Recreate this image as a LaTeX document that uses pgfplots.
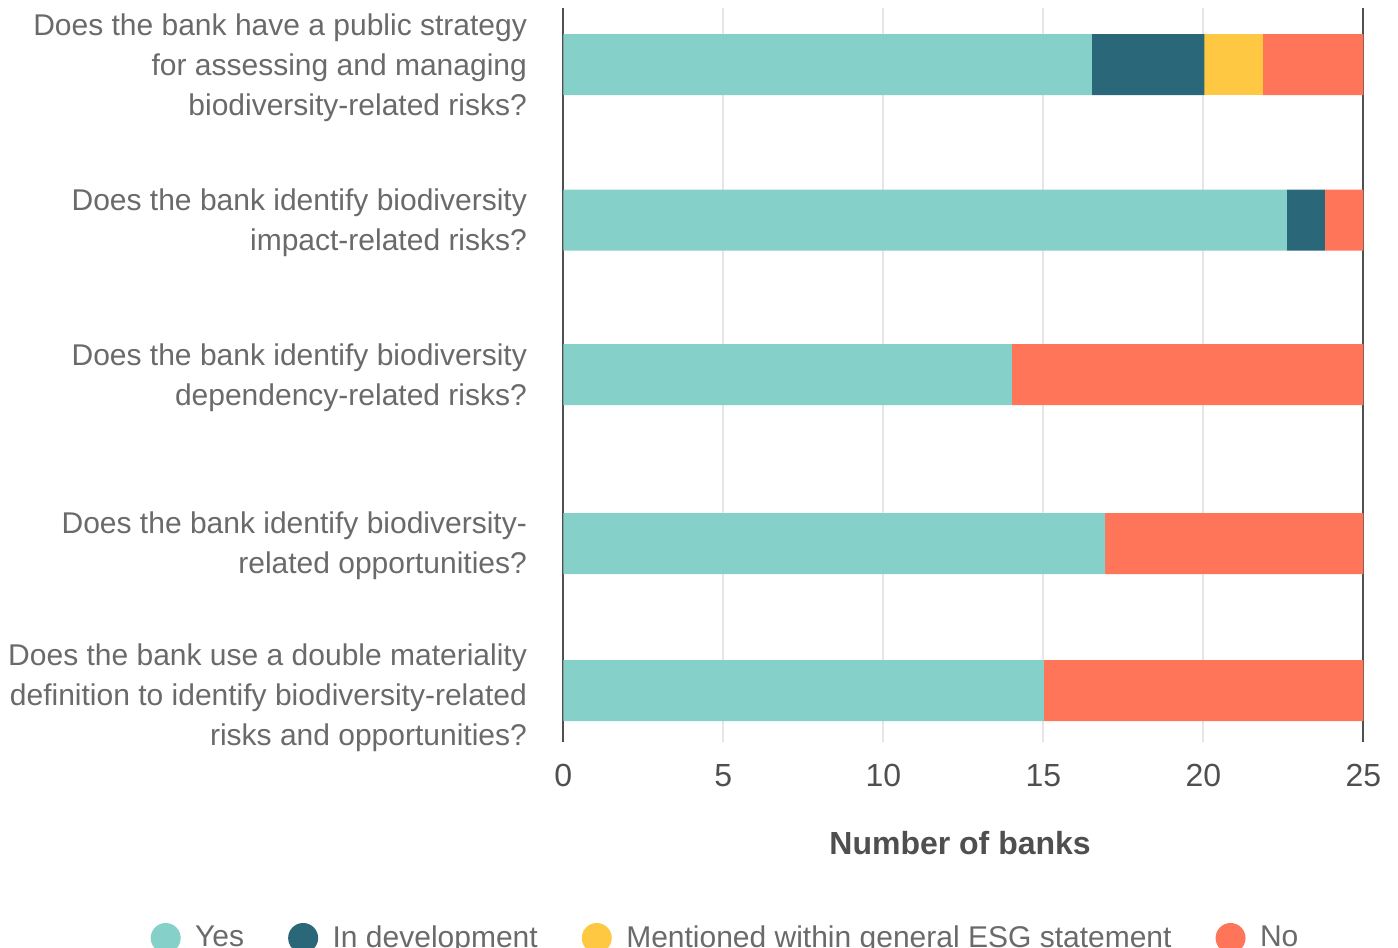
\documentclass[border=0pt]{standalone}
\usepackage{fontspec}
\setmainfont{Liberation Sans}
\usepackage{pgfplots}
\pgfplotsset{compat=1.18}
\definecolor{cyes}{HTML}{85D1CA}
\definecolor{cdev}{HTML}{2A6779}
\definecolor{cment}{HTML}{FEC843}
\definecolor{cno}{HTML}{FF7559}
\definecolor{txt}{HTML}{4F4F4F}
\definecolor{lbl}{HTML}{6A6A6A}
\definecolor{gridc}{HTML}{E6E6E6}
\begin{document}
\begin{tikzpicture}
\path[use as bounding box] (0,0) rectangle (699pt,-474pt);
\begin{axis}[
  at={(281.65pt,-371pt)}, anchor=south west,
  width=400pt, height=367pt, scale only axis,
  xbar stacked, bar width=61,
  y dir=reverse,
  xmin=0, xmax=25, ymin=8, ymax=742,
  xtick={0,5,10,15,20,25},
  ytick={67.5,223,377.5,545.5,697.5},
  yticklabels={{Does the bank have a public strategy\\for assessing and managing\\biodiversity-related risks?},
    {Does the bank identify biodiversity\\impact-related risks?},
    {Does the bank identify biodiversity\\dependency-related risks?},
    {Does the bank identify biodiversity-\\related opportunities?},
    {Does the bank use a double materiality\\definition to identify biodiversity-related\\risks and opportunities?}},
  separate axis lines,
  x axis line style={draw=none},
  y axis line style={draw=txt, line width=1pt},
  xmajorgrids, major grid style={draw=gridc, line width=1pt},
  major tick length=0pt,
  /pgf/number format/assume math mode=true,
  xticklabel style={font=\fontsize{16}{19}\selectfont, text=txt, inner sep=0pt, yshift=-11pt},
  yticklabel style={font=\fontsize{15}{20}\selectfont, text=lbl, align=right, inner sep=0pt, xshift=-18pt},
  xlabel={Number of banks},
  xlabel style={at={(axis description cs:0.496,-0.1376)}, anchor=center, font=\fontsize{16}{19}\selectfont\bfseries, text=txt},
  legend columns=4,
  legend style={draw=none, fill=none, inner sep=0pt, at={(axis description cs:-0.51625,-0.267)}, anchor=west,
    font=\fontsize{15}{18}\selectfont, text=lbl,
    /tikz/every odd column/.append style={column sep=5.25pt},
    /tikz/every even column/.append style={column sep=20pt}},
]
\addplot[fill=cyes, draw=none, legend image code/.code={\fill[cyes] (7.5pt,0pt) circle (7.5pt);}]
  coordinates {(16.52,64.5) (22.61,220) (14.02,374.5) (16.93,543.5) (15.02,690.5)};
\addlegendentry{Yes}
\addplot[fill=cdev, draw=none, legend image code/.code={\fill[cdev] (7.5pt,0pt) circle (7.5pt);}]
  coordinates {(3.51,64.5) (1.19,220) (0,374.5) (0,543.5) (0,690.5)};
\addlegendentry{In development}
\addplot[fill=cment, draw=none, legend image code/.code={\fill[cment] (7.5pt,0pt) circle (7.5pt);}]
  coordinates {(1.84,64.5) (0,220) (0,374.5) (0,543.5) (0,690.5)};
\addlegendentry{Mentioned within general ESG statement}
\addplot[fill=cno, draw=none, legend image code/.code={\fill[cno] (7.5pt,0pt) circle (7.5pt);}]
  coordinates {(3.13,64.5) (1.2,220) (10.98,374.5) (8.07,543.5) (9.98,690.5)};
\addlegendentry{No}
\end{axis}
\end{tikzpicture}
\end{document}
